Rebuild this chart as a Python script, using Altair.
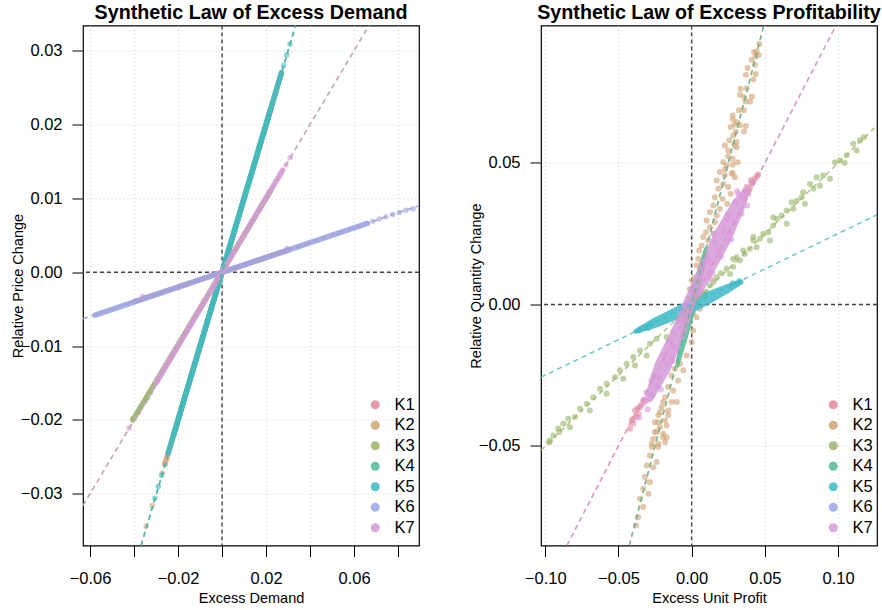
import altair as alt
import pandas as pd

FONT = "Liberation Sans"
SERIES = ["K1", "K2", "K3", "K4", "K5", "K6", "K7"]
PALETTE = ["#E3899B", "#D2A374", "#9AB56C", "#50BB93", "#3DBAC6", "#99A6E5", "#D69AD9"]

# ---------------- Excess demand panel ----------------
# dense runs of observations (start and end of each run)
ed_run_series = ["K1", "K2", "K3", "K4", "K5", "K6", "K7"]
ed_run_x_from = [-0.040, -0.026, -0.0405, -0.022, -0.0245, -0.0577, -0.030]
ed_run_x_to = [0.030, 0.027, 0.022, 0.022, 0.027, 0.066, 0.0275]
ed_run_y_from = [-0.0040, -0.026, -0.0200, -0.022, -0.0245, -0.0058, -0.0150]
ed_run_y_to = [0.0030, 0.027, 0.0110, 0.022, 0.027, 0.0066, 0.0138]

# isolated observations at the ends of the runs
ed_pt_series = (["K1"] * 2 + ["K2"] * 3 + ["K3"] * 3 + ["K5"] * 7
                + ["K6"] * 7 + ["K7"] * 6)
ed_pt_x = [-0.036, 0.0295,
           -0.0345, -0.0317, -0.0272,
           -0.0405, -0.037, -0.034,
           -0.026, -0.0275, -0.029, -0.0305, 0.028, 0.0294, 0.0309,
           0.0685, 0.0715, 0.0745, 0.0775, 0.0805, 0.0835, 0.0868,
           -0.0423, -0.038, -0.035, -0.0325, 0.029, 0.0309]
ed_pt_y = [-0.0033, 0.0032,
           -0.0344, -0.0316, -0.0272,
           -0.0198, -0.0183, -0.0170,
           -0.026, -0.0275, -0.029, -0.0306, 0.028, 0.0294, 0.0309,
           0.0069, 0.0072, 0.0075, 0.0078, 0.0081, 0.0084, 0.0086,
           -0.0211, -0.0190, -0.0175, -0.0163, 0.0145, 0.0155]

# fitted lines, one per series
ed_fit_series = ["K1", "K2", "K3", "K4", "K5", "K6", "K7"]
ed_fit_x0 = [-0.0632, -0.0368, -0.0632, -0.0368, -0.0368, -0.0632, -0.0632]
ed_fit_y0 = [-0.0063, -0.0370, -0.0316, -0.0370, -0.0370, -0.0063, -0.0316]
ed_fit_x1 = [0.0895, 0.0334, 0.0668, 0.0334, 0.0334, 0.0895, 0.0668]
ed_fit_y1 = [0.0090, 0.0334, 0.0334, 0.0334, 0.0334, 0.0090, 0.0334]

ed_x_domain = [-0.0632, 0.0895]
ed_y_domain = [-0.0370, 0.0334]
ed_x_ticks = [-0.06, -0.04, -0.02, 0.0, 0.02, 0.04, 0.06, 0.08]
ed_y_ticks = [-0.03, -0.02, -0.01, 0.0, 0.01, 0.02, 0.03]

# ---------------- Excess profitability panel ----------------
pr_k1_x = [-0.0421, -0.0410, -0.0399, -0.0387, -0.0376, -0.0364, -0.0353, -0.0330,
           -0.0400, -0.0345, -0.0370, -0.0315,
           0.0455, 0.0432, 0.0410, 0.0398, 0.0375, 0.0387, 0.0352,
           0.0365, 0.0420, 0.0445, 0.0405]
pr_k1_y = [-0.0439, -0.0410, -0.0422, -0.0375, -0.0398, -0.0386, -0.0363, -0.0339,
           -0.0405, -0.0355, -0.0368, -0.0340,
           0.0459, 0.0444, 0.0426, 0.0409, 0.0415, 0.0391, 0.0379,
           0.0400, 0.0433, 0.0452, 0.0440]

pr_k2_x = [0.0462, 0.0444, 0.0426, 0.0457, 0.0439, 0.0410, 0.0432, 0.0382, 0.0437, 0.0371,
           0.0421, 0.0335, 0.0376, 0.0330, 0.0359, 0.0410, 0.0369, 0.0400, 0.0323, 0.0357,
           0.0280, 0.0282, 0.0312, 0.0296, 0.0330, 0.0371, 0.0266, 0.0301, 0.0357, 0.0284,
           0.0257, 0.0307, 0.0227, 0.0291, 0.0250, 0.0307, 0.0250, 0.0280, 0.0216, 0.0239,
           0.0280, 0.0314, 0.0193, 0.0227, 0.0280,
           0.0227, 0.0273, 0.0296, 0.0171, 0.0216, 0.0250, 0.0182, 0.0266, 0.0159, 0.0212,
           0.0243, 0.0148, 0.0193, 0.0125, 0.0171, 0.0102, 0.0159, 0.0125, 0.0098, 0.0148,
           0.0079, 0.0113, 0.0068, 0.0052, 0.0102, 0.0045, 0.0034, 0.0057, 0.0023, 0.0000,
           0.0057, -0.0012, 0.0016, -0.0023, 0.0034, 0.0000, -0.0034, 0.0011,
           0.0057, 0.0034, 0.0011, 0.0000, -0.0034, -0.0080, -0.0114, -0.0057, -0.0137, -0.0092,
           -0.0160, -0.0126, -0.0182, -0.0137, -0.0205, -0.0160, -0.0228, -0.0182, -0.0251, -0.0217,
           -0.0239, -0.0194, -0.0262, -0.0228, -0.0273, -0.0182,
           -0.0194, -0.0102, -0.0217, -0.0160, -0.0228, -0.0171, -0.0251, -0.0194, -0.0171,
           -0.0273, -0.0228, -0.0285, -0.0239, -0.0307, -0.0262, -0.0319, -0.0285, -0.0331,
           -0.0296, -0.0353, -0.0331, -0.0365, -0.0380]
pr_k2_y = [0.0921, 0.0894, 0.0892, 0.0882, 0.0877, 0.0865, 0.0847, 0.0836, 0.0815, 0.0812,
           0.0795, 0.0762, 0.0764, 0.0741, 0.0733, 0.0735, 0.0717, 0.0717, 0.0686, 0.0686,
           0.0668, 0.0654, 0.0644, 0.0635, 0.0633, 0.0631, 0.0627, 0.0611, 0.0611, 0.0597,
           0.0580, 0.0574, 0.0562, 0.0564, 0.0544, 0.0556, 0.0524, 0.0515, 0.0503, 0.0491,
           0.0494, 0.0503, 0.0468, 0.0477, 0.0465,
           0.0456, 0.0462, 0.0450, 0.0438, 0.0426, 0.0415, 0.0409, 0.0391, 0.0379, 0.0373,
           0.0356, 0.0350, 0.0338, 0.0326, 0.0314, 0.0297, 0.0291, 0.0273, 0.0255, 0.0250,
           0.0238, 0.0226, 0.0208, 0.0191, 0.0179, 0.0161, 0.0138, 0.0120, 0.0096, 0.0085,
           0.0073, 0.0055, 0.0038, 0.0020, 0.0026, 0.0002, -0.0021, -0.0033,
           -0.0015, -0.0045, -0.0092, -0.0133, -0.0180, -0.0210, -0.0227, -0.0233, -0.0251, -0.0269,
           -0.0292, -0.0304, -0.0328, -0.0345, -0.0363, -0.0375, -0.0392, -0.0410, -0.0416, -0.0434,
           -0.0451, -0.0469, -0.0475, -0.0492, -0.0504, -0.0487,
           -0.0345, -0.0345, -0.0381, -0.0392, -0.0416, -0.0428, -0.0451, -0.0457, -0.0469,
           -0.0492, -0.0504, -0.0534, -0.0557, -0.0569, -0.0575, -0.0610, -0.0628, -0.0651,
           -0.0669, -0.0687, -0.0716, -0.0752, -0.0781]

pr_k3_x = [0.1177, 0.1150, 0.1104, 0.1127, 0.1059, 0.1013, 0.1045, 0.0979, 0.0945, 0.0899,
           0.0854, 0.0876, 0.0831, 0.0808, 0.0762, 0.0751, 0.0774, 0.0717, 0.0683, 0.0694,
           0.0649, 0.0615, 0.0649, 0.0581, 0.0557, 0.0523, 0.0489, 0.0535, 0.0467, 0.0421,
           0.0444, 0.0398, 0.0364, 0.0330, 0.0307, 0.0284, 0.0239, 0.0262,
           0.0557, 0.0421, 0.0352, 0.0284, 0.0171, 0.0125, 0.0079,
           0.0040, 0.0100, 0.0150, 0.0200, -0.0030, -0.0060, -0.0090,
           -0.0126, -0.0171, -0.0239, -0.0285, -0.0353, -0.0307, -0.0399, -0.0444, -0.0387, -0.0490,
           -0.0524, -0.0467, -0.0581, -0.0626, -0.0581, -0.0672, -0.0717, -0.0763, -0.0695, -0.0797,
           -0.0843, -0.0877, -0.0831, -0.0911, -0.0945, -0.0968, -0.0973, -0.0904]
pr_k3_y = [0.0591, 0.0580, 0.0568, 0.0544, 0.0527, 0.0509, 0.0500, 0.0503, 0.0444, 0.0456,
           0.0450, 0.0420, 0.0409, 0.0426, 0.0397, 0.0379, 0.0356, 0.0367, 0.0361, 0.0338,
           0.0332, 0.0314, 0.0285, 0.0303, 0.0279, 0.0255, 0.0250, 0.0226, 0.0232, 0.0238,
           0.0202, 0.0197, 0.0179, 0.0155, 0.0167, 0.0132, 0.0126, 0.0108,
           0.0308, 0.0226, 0.0191, 0.0161, 0.0096, 0.0067, 0.0038,
           0.0020, 0.0045, 0.0080, 0.0110, -0.0020, -0.0040, -0.0060,
           -0.0098, -0.0115, -0.0121, -0.0139, -0.0163, -0.0180, -0.0186, -0.0210, -0.0216, -0.0233,
           -0.0257, -0.0263, -0.0280, -0.0298, -0.0316, -0.0328, -0.0351, -0.0369, -0.0375, -0.0398,
           -0.0404, -0.0422, -0.0434, -0.0439, -0.0463, -0.0481, -0.0487, -0.0451]

# dense bands: centre line of the cloud
pr_band_series = ["K4"] * 5 + ["K5"] * 7 + ["K7"] * 8
pr_band_x = [-0.0098, -0.0050, 0.0000, 0.0050, 0.0098,
             -0.0380, -0.0250, -0.0120, 0.0000, 0.0120, 0.0240, 0.0337,
             -0.0290, -0.0200, -0.0095, -0.0020, 0.0097, 0.0210, 0.0324, 0.0380]
pr_band_y = [-0.0216, -0.0110, -0.0005, 0.0095, 0.0197,
             -0.0095, -0.0065, -0.0035, -0.0005, 0.0025, 0.0055, 0.0079,
             -0.0330, -0.0222, -0.0104, 0.0000, 0.0120, 0.0238, 0.0356, 0.0405]

# looser observations around the K5 and K7 bands
pr_k5_x = [-0.0360, -0.0330, -0.0300, -0.0280, 0.0280, 0.0310, 0.0325]
pr_k5_y = [-0.0092, -0.0082, -0.0083, -0.0068, 0.0075, 0.0072, 0.0083]
pr_k7_x = [-0.0360, -0.0330, -0.0270, -0.0260, -0.0220, -0.0170, -0.0150, -0.0120, -0.0060,
           -0.0040, 0.0030, 0.0060, 0.0090, 0.0140, 0.0160, 0.0200, 0.0240, 0.0270, 0.0300,
           0.0340, 0.0360, 0.0380, 0.0410,
           -0.0310, -0.0235, -0.0185, -0.0105, -0.0080, 0.0010, 0.0115, 0.0180, 0.0250,
           0.0290, 0.0320, -0.0275, -0.0140, 0.0050, 0.0225,
           -0.0300, -0.0210, -0.0130, 0.0070, 0.0150, 0.0260, 0.0310, 0.0130]
pr_k7_y = [-0.0400, -0.0350, -0.0320, -0.0250, -0.0260, -0.0210, -0.0130, -0.0150, -0.0100,
           -0.0020, 0.0080, 0.0040, 0.0150, 0.0110, 0.0220, 0.0170, 0.0300, 0.0230, 0.0360,
           0.0320, 0.0400, 0.0350, 0.0430,
           -0.0310, -0.0290, -0.0180, -0.0160, -0.0060, 0.0040, 0.0160, 0.0190, 0.0320,
           0.0290, 0.0390, -0.0270, -0.0190, 0.0100, 0.0260,
           -0.0370, -0.0300, -0.0200, 0.0140, 0.0250, 0.0250, 0.0400, 0.0090]

pr_fit_series = ["K1", "K2", "K3", "K4", "K5", "K7"]
pr_fit_x0 = [-0.0852, -0.0426, -0.1029, -0.0426, -0.1029, -0.0852]
pr_fit_y0 = [-0.0852, -0.0852, -0.0515, -0.0852, -0.0257, -0.0852]
pr_fit_x1 = [0.0986, 0.0493, 0.1266, 0.0493, 0.1266, 0.0986]
pr_fit_y1 = [0.0986, 0.0986, 0.0633, 0.0986, 0.0317, 0.0986]

pr_x_domain = [-0.1029, 0.1266]
pr_y_domain = [-0.0852, 0.0986]
pr_x_ticks = [-0.10, -0.05, 0.0, 0.05, 0.10]
pr_y_ticks = [-0.05, 0.0, 0.05]

# ---------------- styling ----------------
PLOT_W, PLOT_H = 336, 520
POINT_SIZE = 36
POINT_OPACITY = 0.62
RUN_WIDTH = 5.5
K4_BAND_PX = [4, 8, 9, 8, 4]
K5_BAND_PX = [5, 10, 12, 13, 12, 9, 5]
K7_BAND_PX = [9, 17, 15, 12, 16, 19, 14, 6]


def color_enc(legend):
    return alt.Color("series:N", scale=alt.Scale(domain=SERIES, range=PALETTE), legend=legend)


def make_legend():
    return alt.Legend(orient="none", legendX=284, legendY=371, title=None,
                      symbolType="circle", symbolSize=81, symbolOpacity=0.85,
                      symbolStrokeWidth=0, labelFont=FONT, labelFontSize=16.5,
                      labelColor="black", labelOffset=11, rowPadding=3.5, padding=0)


def panel(title, x_title, y_title, x_dom, y_dom, x_ticks, y_ticks, x_label_expr,
          layers_fn):
    x_axis = alt.Axis(values=x_ticks, format=".2f", title=x_title, labelExpr=x_label_expr,
                      labelPadding=14, titlePadding=4)
    y_axis = alt.Axis(values=y_ticks, format=".2f", title=y_title, labelPadding=10,
                      titleX=-64.5, titleY=PLOT_H / 2, titleAngle=270,
                      titleAlign="center", titleBaseline="middle")
    xs = alt.Scale(domain=x_dom, nice=False, zero=False)
    ys = alt.Scale(domain=y_dom, nice=False, zero=False)

    def X(field="x"):
        return alt.X(f"{field}:Q", scale=xs, axis=x_axis)

    def Y(field="y"):
        return alt.Y(f"{field}:Q", scale=ys, axis=y_axis)

    zero = pd.DataFrame({"x": [0.0], "y": [0.0]})
    zero_v = alt.Chart(zero).mark_rule(color="#444444", strokeDash=[4, 3], strokeWidth=1.4).encode(x=X())
    zero_h = alt.Chart(zero).mark_rule(color="#444444", strokeDash=[4, 3], strokeWidth=1.4).encode(y=Y())
    layers = [zero_v, zero_h] + layers_fn(X, Y)
    return alt.layer(*layers).properties(
        width=PLOT_W, height=PLOT_H,
        title=alt.TitleParams(title, font=FONT, fontSize=19.7, fontWeight="bold",
                              color="black", anchor="middle", frame="group", offset=2),
    )


def fit_layer(series, x0, y0, x1, y1, X, Y):
    df = pd.DataFrame({"series": series, "x": x0, "y": y0, "x2": x1, "y2": y1})
    return alt.Chart(df).mark_rule(strokeDash=[5, 4], strokeWidth=1.5, opacity=0.8,
                                   clip=True).encode(
        x=X(), y=Y(), x2="x2:Q", y2="y2:Q", color=color_enc(None))


def ed_layers(X, Y):
    runs = pd.DataFrame({
        "series": ed_run_series + ed_run_series,
        "x": ed_run_x_from + ed_run_x_to,
        "y": ed_run_y_from + ed_run_y_to,
    })
    pts = pd.DataFrame({"series": ed_pt_series, "x": ed_pt_x, "y": ed_pt_y})
    pt_layer = alt.Chart(pts).mark_circle(size=POINT_SIZE - 6, opacity=POINT_OPACITY, clip=True).encode(
        x=X(), y=Y(), color=color_enc(make_legend()))
    run_layer = alt.Chart(runs).mark_line(strokeWidth=RUN_WIDTH, strokeCap="round",
                                          opacity=0.9, clip=True).encode(
        x=X(), y=Y(), color=color_enc(None))
    fits = fit_layer(ed_fit_series, ed_fit_x0, ed_fit_y0, ed_fit_x1, ed_fit_y1, X, Y)
    return [pt_layer, run_layer, fits]


def pr_layers(X, Y):
    loose = pd.DataFrame({
        "series": ["K1"] * len(pr_k1_x) + ["K2"] * len(pr_k2_x) + ["K3"] * len(pr_k3_x),
        "x": pr_k1_x + pr_k2_x + pr_k3_x,
        "y": pr_k1_y + pr_k2_y + pr_k3_y,
    })
    bands = pd.DataFrame({
        "series": pr_band_series, "x": pr_band_x, "y": pr_band_y,
        "w": K4_BAND_PX + K5_BAND_PX + K7_BAND_PX,
    })
    edge = pd.DataFrame({
        "series": ["K5"] * len(pr_k5_x) + ["K7"] * len(pr_k7_x),
        "x": pr_k5_x + pr_k7_x,
        "y": pr_k5_y + pr_k7_y,
    })
    loose_layer = alt.Chart(loose).mark_circle(size=POINT_SIZE, opacity=POINT_OPACITY, clip=True).encode(
        x=X(), y=Y(), color=color_enc(make_legend()))
    band_layer = alt.Chart(bands).mark_trail(opacity=0.85, clip=True).encode(
        x=X(), y=Y(), color=color_enc(None), size=alt.Size("w:Q", scale=None, legend=None))
    edge_layer = alt.Chart(edge).mark_circle(size=POINT_SIZE, opacity=POINT_OPACITY, clip=True).encode(
        x=X(), y=Y(), color=color_enc(None))
    fits = fit_layer(pr_fit_series, pr_fit_x0, pr_fit_y0, pr_fit_x1, pr_fit_y1, X, Y)
    return [loose_layer, band_layer, edge_layer, fits]


ed_label_expr = ("(round(datum.value * 100) % 4 == 2 || round(datum.value * 100) % 4 == -2)"
                 " ? datum.label : ''")

left = panel("Synthetic Law of Excess Demand", "Excess Demand", "Relative Price Change",
             ed_x_domain, ed_y_domain, ed_x_ticks, ed_y_ticks, ed_label_expr, ed_layers)
right = panel("Synthetic Law of Excess Profitability", "Excess Unit Profit",
              "Relative Quantity Change", pr_x_domain, pr_y_domain, pr_x_ticks, pr_y_ticks,
              "datum.label", pr_layers)

chart = alt.hconcat(left, right, spacing=122, bounds="flush").resolve_scale(
    color="independent", x="independent", y="independent"
).properties(
    padding={"left": 9, "top": 2.5, "right": 0, "bottom": 0},
    background="white",
).configure_view(
    stroke="black", strokeWidth=1.2
).configure_axis(
    domain=False, grid=True, gridColor="#CFCFCF", gridDash=[1, 3], gridWidth=1,
    tickColor="black", tickSize=11, tickWidth=1,
    labelFont=FONT, labelFontSize=16.5, labelColor="black",
    titleFont=FONT, titleFontSize=14.5, titleFontWeight="normal", titleColor="black",
)

chart.save("out.html", embed_options={"renderer": "svg", "actions": False})
